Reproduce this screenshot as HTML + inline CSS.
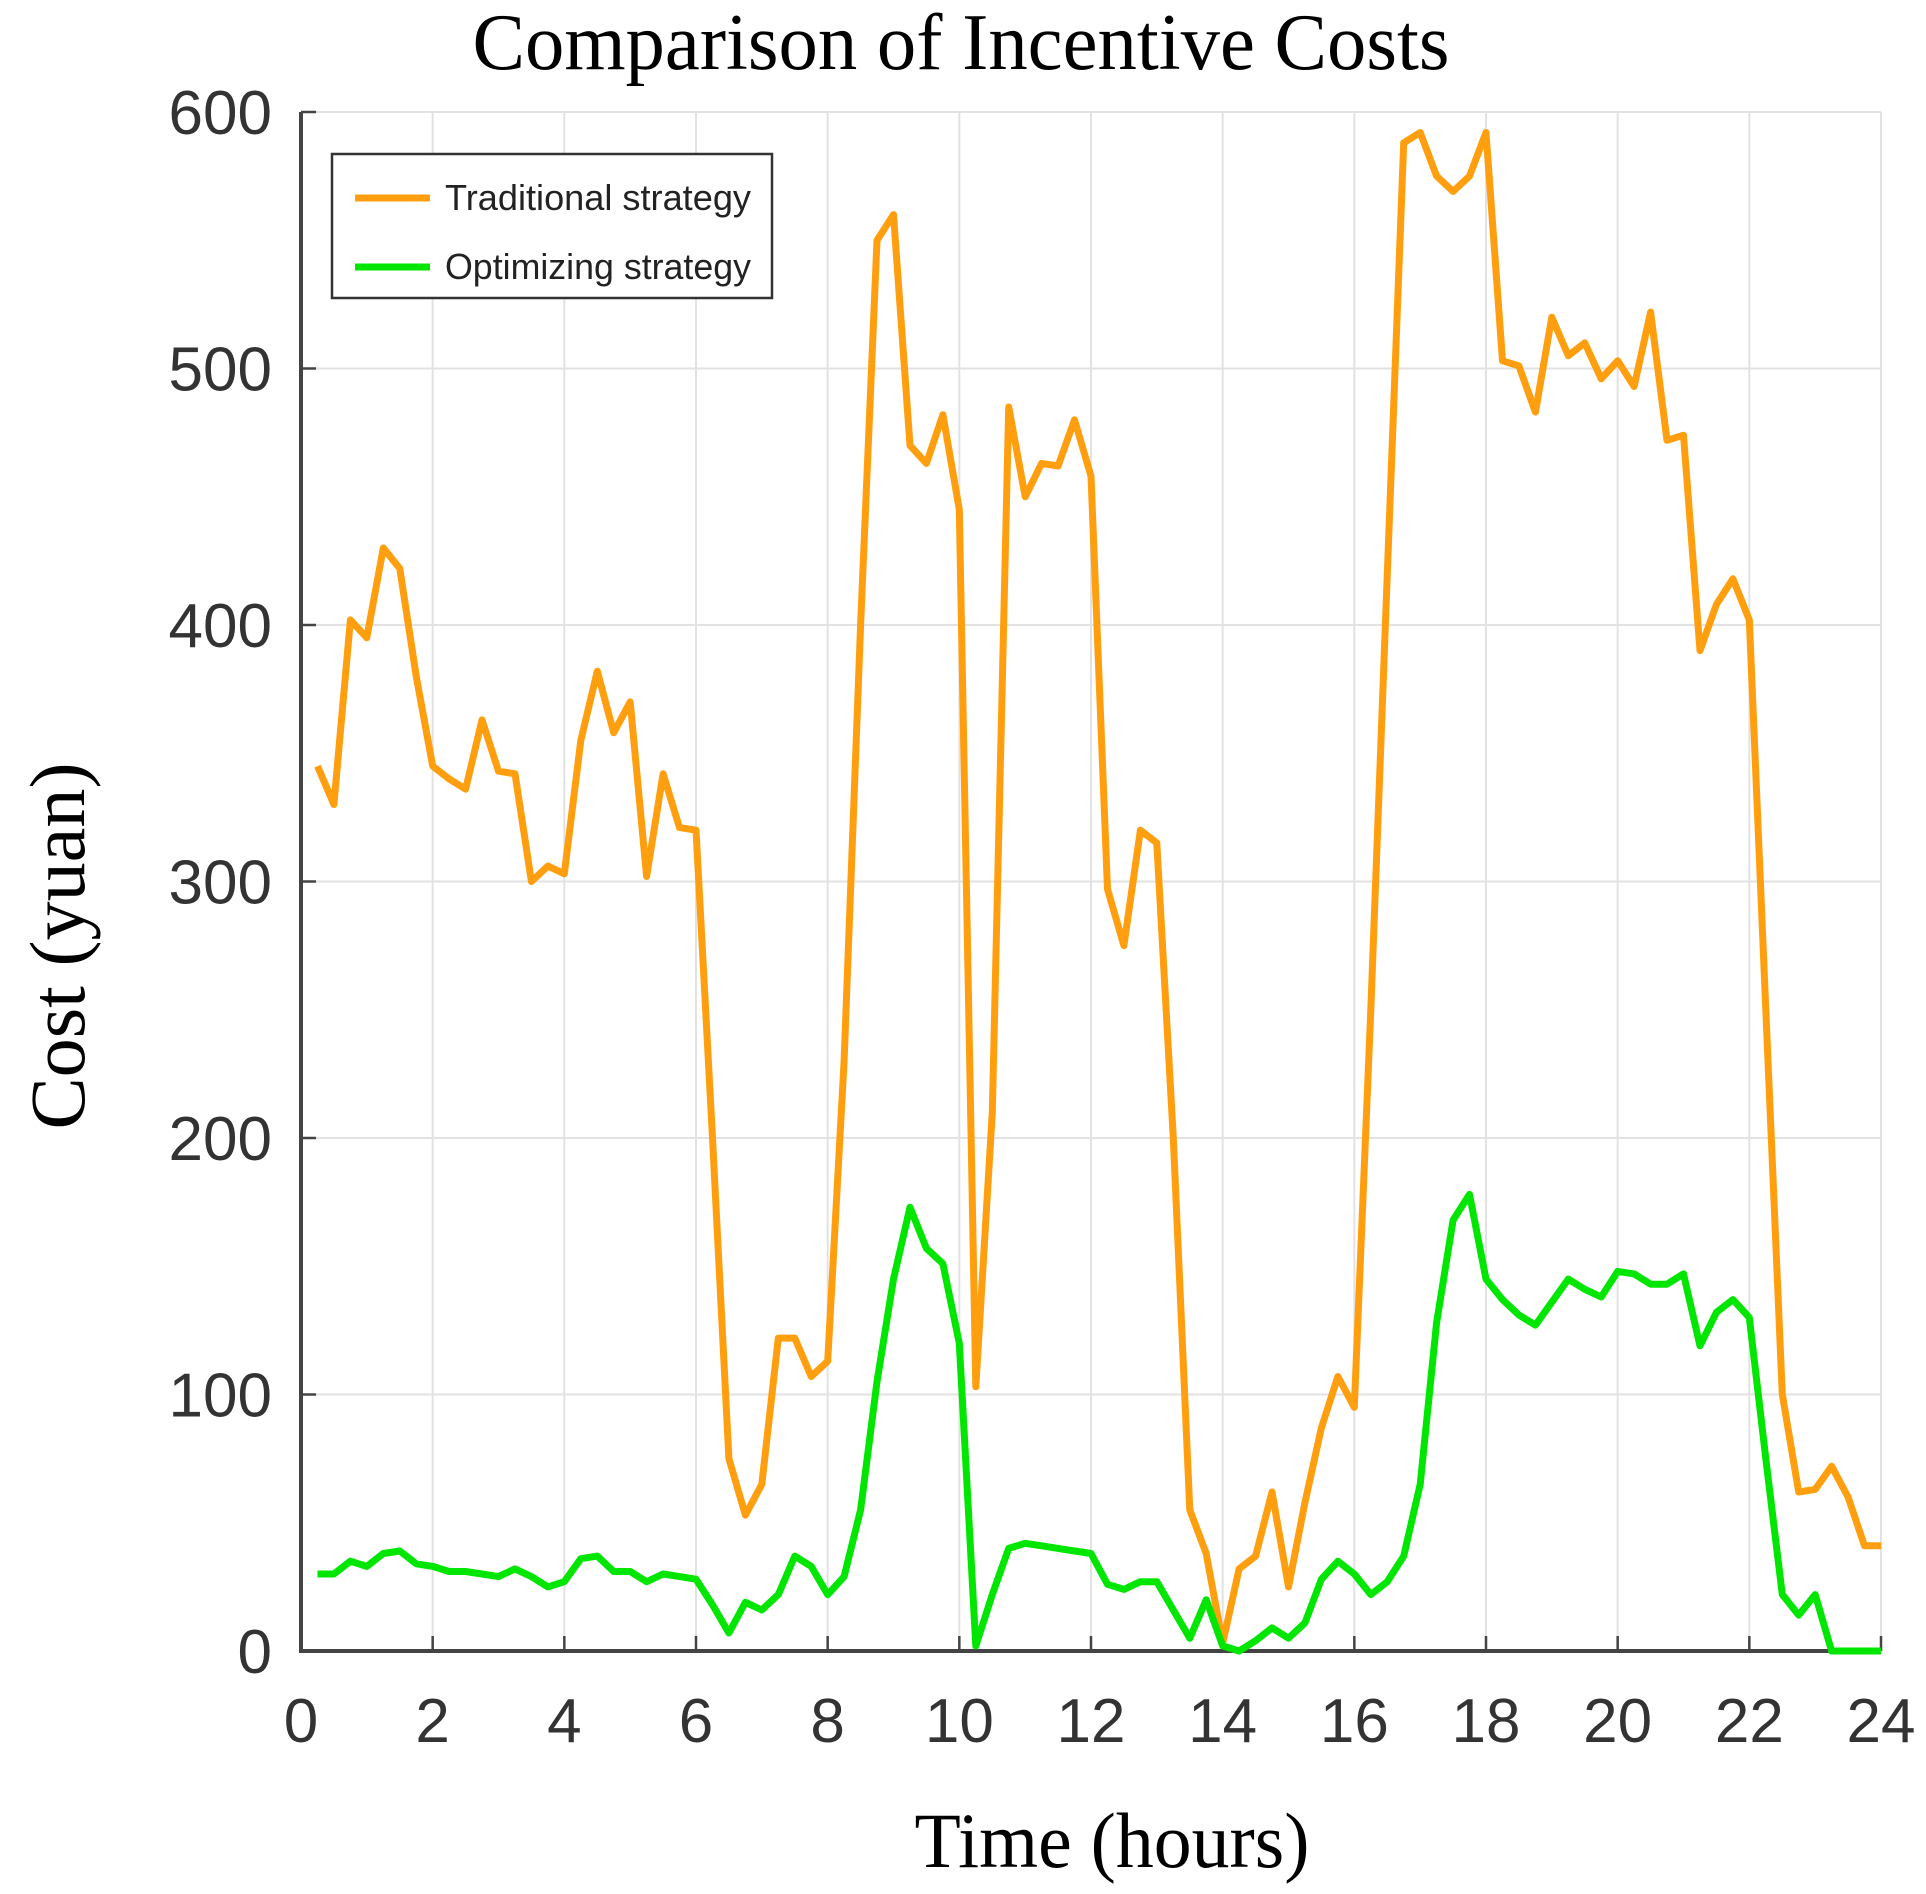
<!DOCTYPE html>
<html><head><meta charset="utf-8"><style>
html,body{margin:0;padding:0;background:#fff;}
svg{display:block;}
</style></head><body>
<svg id="chart" width="1926" height="1894" viewBox="0 0 1926 1894" xmlns="http://www.w3.org/2000/svg">
<text x="961" y="69" text-anchor="middle" font-family="Liberation Serif, serif" font-size="80" textLength="977" lengthAdjust="spacingAndGlyphs" fill="#000">Comparison of Incentive Costs</text>
<g id="grid"></g>
<g id="axes"></g>
<g id="series"></g>
<text transform="translate(84,946) rotate(-90)" text-anchor="middle" font-family="Liberation Serif, serif" font-size="78" textLength="367" lengthAdjust="spacingAndGlyphs" fill="#000">Cost (yuan)</text>
<text x="1112" y="1867" text-anchor="middle" font-family="Liberation Serif, serif" font-size="78" textLength="395" lengthAdjust="spacingAndGlyphs" fill="#000">Time (hours)</text>
<g>
<rect x="332" y="154" width="440" height="144" fill="#fff" stroke="#333" stroke-width="2.5"/>
<line x1="355" y1="198" x2="430" y2="198" stroke="#ff9f0f" stroke-width="7"/>
<text x="445" y="210" font-family="Liberation Sans, sans-serif" font-size="36" textLength="306" lengthAdjust="spacingAndGlyphs" fill="#222">Traditional strategy</text>
<line x1="355" y1="267" x2="430" y2="267" stroke="#00e600" stroke-width="7"/>
<text x="445" y="279" font-family="Liberation Sans, sans-serif" font-size="36" textLength="306" lengthAdjust="spacingAndGlyphs" fill="#222">Optimizing strategy</text>
</g>
</svg>
<script>
const hours = [0.25,0.5,0.75,1,1.25,1.5,1.75,2,2.25,2.5,2.75,3,3.25,3.5,3.75,4,4.25,4.5,4.75,5,5.25,5.5,5.75,6,6.25,6.5,6.75,7,7.25,7.5,7.75,8,8.25,8.5,8.75,9,9.25,9.5,9.75,10,10.25,10.5,10.75,11,11.25,11.5,11.75,12,12.25,12.5,12.75,13,13.25,13.5,13.75,14,14.25,14.5,14.75,15,15.25,15.5,15.75,16,16.25,16.5,16.75,17,17.25,17.5,17.75,18,18.25,18.5,18.75,19,19.25,19.5,19.75,20,20.25,20.5,20.75,21,21.25,21.5,21.75,22,22.25,22.5,22.75,23,23.25,23.5,23.75,24];
const traditional = [345,330,402,395,430,422,380,345,340,336,363,343,342,300,306,303,355,382,358,370,302,342,321,320,200,75,53,65,122,122,107,113,230,400,550,560,470,463,482,445,103,210,485,450,463,462,480,458,297,275,320,315,200,55,38,3,32,37,62,25,58,87,107,95,250,420,588,592,575,569,575,592,503,501,483,520,505,510,496,503,493,522,472,474,390,408,418,402,250,100,62,63,72,60,41,41];
const optimizing = [30,30,35,33,38,39,34,33,31,31,30,29,32,29,25,27,36,37,31,31,27,30,29,28,18,7,19,16,22,37,33,22,29,55,105,145,173,157,151,120,2,22,40,42,41,40,39,38,26,24,27,27,16,5,20,2,0,4,9,5,11,28,35,30,22,27,37,65,128,168,178,145,137,131,127,136,145,141,138,148,147,143,143,147,119,132,137,130,75,22,14,22,0,0,0,0];
const xTicks = [0,2,4,6,8,10,12,14,16,18,20,22,24];
const yTicks = [0,100,200,300,400,500,600];

const X0=301, X1=1881, Y0=1651, Y1=112;
const xs = h => X0 + (h/24)*(X1-X0);
const ys = v => Y0 - (v/600)*(Y0-Y1);
const NS="http://www.w3.org/2000/svg";
function mk(tag, attrs, parent){const e=document.createElementNS(NS,tag);for(const k in attrs)e.setAttribute(k,attrs[k]);parent.appendChild(e);return e;}
const grid=document.getElementById('grid'), axes=document.getElementById('axes'), series=document.getElementById('series');

xTicks.forEach(t=>{
  const g=mk('line',{x1:xs(t),x2:xs(t),y1:Y1,y2:Y0,stroke:'#e2e2e2','stroke-width':2},grid);
  
  
  const tk=mk('line',{x1:xs(t),x2:xs(t),y1:Y0,y2:Y0-15,stroke:'#444','stroke-width':2.5},axes);
  
  
  const lb=mk('text',{x:xs(t),y:1742,'text-anchor':'middle','font-family':'Liberation Sans, sans-serif','font-size':62,fill:'#333'},axes);
  lb.textContent=t;
  
  
});
yTicks.forEach(t=>{
  const g=mk('line',{x1:X0,x2:X1,y1:ys(t),y2:ys(t),stroke:'#e2e2e2','stroke-width':2},grid);
  
  
  const tk=mk('line',{x1:X0,x2:X0+15,y1:ys(t),y2:ys(t),stroke:'#444','stroke-width':2.5},axes);
  
  
  const lb=mk('text',{x:272,y:ys(t)+22,'text-anchor':'end','font-family':'Liberation Sans, sans-serif','font-size':62,fill:'#333'},axes);
  lb.textContent=t;
  
  
});
const ax=mk('path',{d:`M${X0},${Y1} L${X0},${Y0} L${X1},${Y0}`,fill:'none',stroke:'#444','stroke-width':4},axes);



function line(vals,color,name){
  const d=vals.map((v,i)=>(i?'L':'M')+xs(hours[i]).toFixed(1)+','+ys(v).toFixed(1)).join(' ');
  const p=mk('path',{d:d,fill:'none',stroke:color,'stroke-width':7,'stroke-linejoin':'round'},series);
  
  
}
line(traditional,'#ff9f0f','traditional-strategy-line');
line(optimizing,'#00e600','optimizing-strategy-line');
</script>
</body></html>
